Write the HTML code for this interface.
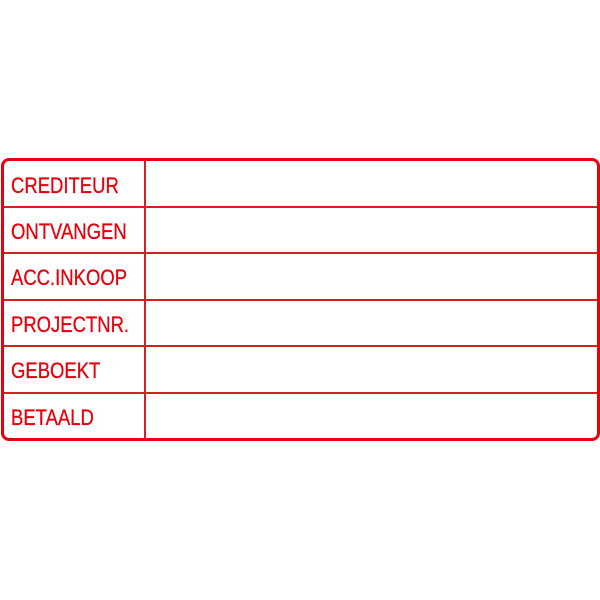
<!DOCTYPE html>
<html><head><style>
html,body{margin:0;padding:0;background:#fff;width:600px;height:600px;overflow:hidden}
.box{position:absolute;left:1px;top:158px;width:593px;height:277px;border:3px solid #e8000b;border-radius:8px}
.h{position:absolute;left:4px;width:593px;height:2px;background:#d42020}
.v{position:absolute;left:144px;top:161px;width:2px;height:277px;background:#d42020}
.t{position:absolute;left:11px;font-family:"Liberation Sans",sans-serif;font-size:22px;color:#e8000b;line-height:1;transform:scaleX(0.84);transform-origin:0 0;-webkit-text-stroke:0.3px #e8000b}
</style></head><body>
<div class="box"></div>
<div class="h" style="top:206px"></div>
<div class="h" style="top:252px"></div>
<div class="h" style="top:299px"></div>
<div class="h" style="top:345px"></div>
<div class="h" style="top:392px"></div>
<div class="v"></div>
<div class="t" style="top:175px">CREDITEUR</div>
<div class="t" style="top:221px">ONTVANGEN</div>
<div class="t" style="top:267px">ACC.INKOOP</div>
<div class="t" style="top:314px">PROJECTNR.</div>
<div class="t" style="top:360px">GEBOEKT</div>
<div class="t" style="top:407px">BETAALD</div>
</body></html>
